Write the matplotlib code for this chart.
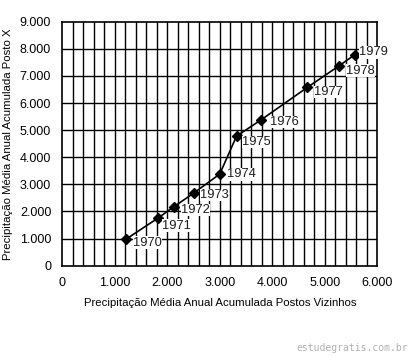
import matplotlib
matplotlib.use("Agg")
import matplotlib.pyplot as plt
import numpy as np

years = ["1970", "1971", "1972", "1973", "1974", "1975", "1976", "1977", "1978", "1979"]
x_vizinhos = [1210, 1820, 2130, 2500, 3000, 3320, 3780, 4670, 5270, 5570]
y_posto = [970, 1750, 2180, 2670, 3380, 4780, 5370, 6580, 7370, 7780]
xticks = [0, 1000, 2000, 3000, 4000, 5000, 6000]
xtick_labels = ["0", "1.000", "2.000", "3.000", "4.000", "5.000", "6.000"]
yticks = [0, 1000, 2000, 3000, 4000, 5000, 6000, 7000, 8000, 9000]
ytick_labels = ["0", "1.000", "2.000", "3.000", "4.000", "5.000", "6.000", "7.000", "8.000", "9.000"]

plt.rcParams['font.family'] = ['Liberation Sans', 'DejaVu Sans']

fig = plt.figure(figsize=(4.10, 3.57), dpi=100)
ax = fig.add_axes([0.152, 0.256, 0.768, 0.683])

ax.set_xlim(0, 6000)
ax.set_ylim(0, 9000)
for v in np.arange(200, 6000, 200):
    ax.axvline(v, color='black', lw=1.0, zorder=1)
for v in np.arange(1000, 9000, 1000):
    ax.axhline(v, color='black', lw=1.0, zorder=1)

ax.plot(x_vizinhos, y_posto, color='black', lw=1.2, marker='D', markersize=5.5, zorder=3)

offsets = {"1970": (5, 2), "1971": (3, -1), "1972": (5, 2), "1973": (5, 3),
           "1974": (5, 4), "1975": (4, 0), "1976": (7, 3), "1977": (5, 1),
           "1978": (5, 1), "1979": (3, 6)}
for xv, yv, lab in zip(x_vizinhos, y_posto, years):
    dx, dy = offsets[lab]
    ax.annotate(lab, (xv, yv), xytext=(dx, dy), textcoords='offset points',
                fontsize=9.3, va='top', ha='left', zorder=4, color='#1a1a1a',
                bbox=dict(facecolor='white', edgecolor='none', pad=0.1))

ax.set_xticks(xticks)
ax.set_xticklabels(xtick_labels)
ax.set_yticks(yticks)
ax.set_yticklabels(ytick_labels)
ax.tick_params(length=0, labelsize=9, pad=8)
for s in ax.spines.values():
    s.set_linewidth(1.2)

ax.set_xlabel("Precipitação Média Anual Acumulada Postos Vizinhos", fontsize=8.2, labelpad=7)
ax.set_ylabel("Precipitação Média Anual Acumulada Posto X", fontsize=8.2, labelpad=5)

fig.text(0.995, 0.012, "estudegratis.com.br", color='#b0b0b0', fontsize=7,
         ha='right', va='bottom', family='DejaVu Sans Mono')

fig.savefig("out.png", dpi=100)
